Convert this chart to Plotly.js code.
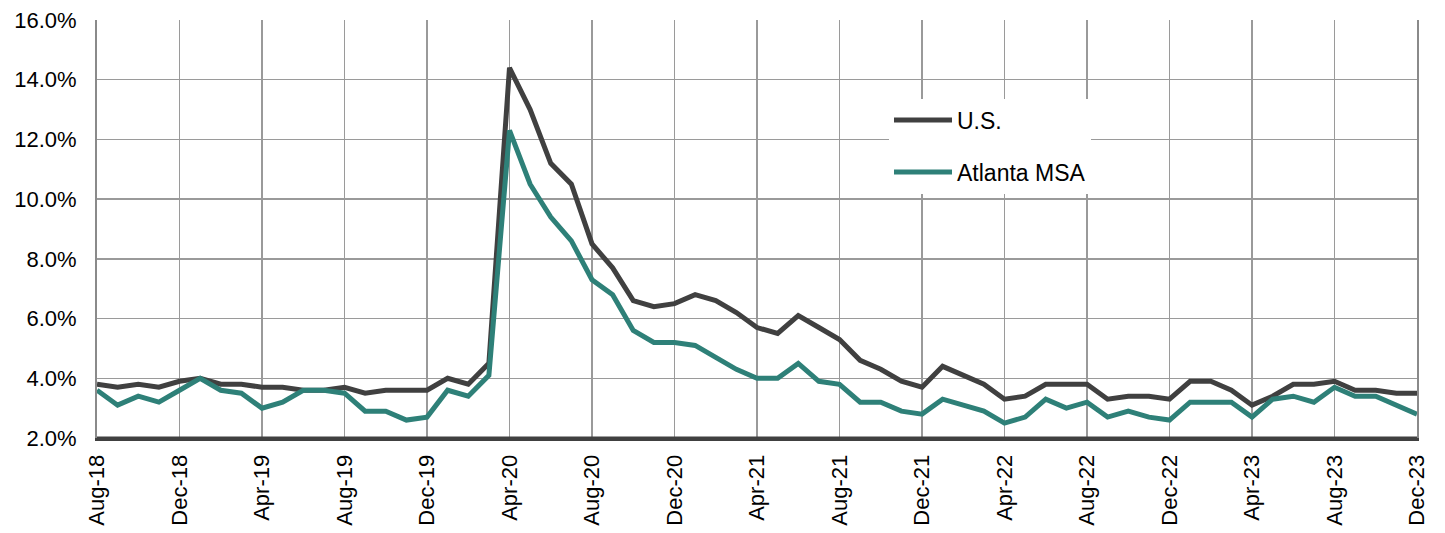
<!DOCTYPE html>
<html>
<head>
<meta charset="utf-8">
<script src="https://cdn.plot.ly/plotly-3.0.1.min.js"></script>
<style>html,body{margin:0;padding:0;background:#fff;}#chart{width:1445px;height:533px;}</style>
</head>
<body>
<div id="chart"></div>
<script>
const months = ["Aug-18","Sep-18","Oct-18","Nov-18","Dec-18","Jan-19","Feb-19","Mar-19","Apr-19","May-19","Jun-19","Jul-19",
"Aug-19","Sep-19","Oct-19","Nov-19","Dec-19","Jan-20","Feb-20","Mar-20","Apr-20","May-20","Jun-20","Jul-20",
"Aug-20","Sep-20","Oct-20","Nov-20","Dec-20","Jan-21","Feb-21","Mar-21","Apr-21","May-21","Jun-21","Jul-21",
"Aug-21","Sep-21","Oct-21","Nov-21","Dec-21","Jan-22","Feb-22","Mar-22","Apr-22","May-22","Jun-22","Jul-22",
"Aug-22","Sep-22","Oct-22","Nov-22","Dec-22","Jan-23","Feb-23","Mar-23","Apr-23","May-23","Jun-23","Jul-23",
"Aug-23","Sep-23","Oct-23","Nov-23","Dec-23"];

const usRate = [3.8,3.7,3.8,3.7,3.9,4.0,3.8,3.8,3.7,3.7,3.6,3.6,
3.7,3.5,3.6,3.6,3.6,4.0,3.8,4.5,14.4,13.0,11.2,10.5,
8.5,7.7,6.6,6.4,6.5,6.8,6.6,6.2,5.7,5.5,6.1,5.7,
5.3,4.6,4.3,3.9,3.7,4.4,4.1,3.8,3.3,3.4,3.8,3.8,
3.8,3.3,3.4,3.4,3.3,3.9,3.9,3.6,3.1,3.4,3.8,3.8,
3.9,3.6,3.6,3.5,3.5];

const atlantaRate = [3.6,3.1,3.4,3.2,3.6,4.0,3.6,3.5,3.0,3.2,3.6,3.6,
3.5,2.9,2.9,2.6,2.7,3.6,3.4,4.1,12.3,10.5,9.4,8.6,
7.3,6.8,5.6,5.2,5.2,5.1,4.7,4.3,4.0,4.0,4.5,3.9,
3.8,3.2,3.2,2.9,2.8,3.3,3.1,2.9,2.5,2.7,3.3,3.0,
3.2,2.7,2.9,2.7,2.6,3.2,3.2,3.2,2.7,3.3,3.4,3.2,
3.7,3.4,3.4,3.1,2.8];

const tickLabels = ["Aug-18","Dec-18","Apr-19","Aug-19","Dec-19","Apr-20","Aug-20","Dec-20","Apr-21","Aug-21","Dec-21","Apr-22","Aug-22","Dec-22","Apr-23","Aug-23","Dec-23"];
const yTicks = [2,4,6,8,10,12,14,16];

const font = "Liberation Sans, Arial, sans-serif";

const traces = [
  {x: months, y: usRate, name: "U.S.", type: "scatter", mode: "lines",
   line: {color: "#404040", width: 5}, legendgroup: "a"},
  {x: months, y: atlantaRate, name: "Atlanta MSA", type: "scatter", mode: "lines",
   line: {color: "#2e8078", width: 5}, legendgroup: "b"}
];

const layout = {
  width: 1445, height: 533,
  margin: {l: 97, r: 28, t: 20, b: 95, pad: 0},
  paper_bgcolor: "#fff", plot_bgcolor: "#fff",
  font: {family: font, color: "#000", size: 22},
  showlegend: true,
  legend: {x: 0.6, y: 0.812, xanchor: "left", yanchor: "top",
    bgcolor: "#fff", borderwidth: 0, font: {size: 23, family: font},
    tracegroupgap: 19, itemwidth: 58, traceorder: "grouped"},
  xaxis: {type: "category", categoryorder: "array", categoryarray: months,
    range: [0, months.length - 1], tickmode: "array", tickvals: tickLabels, ticktext: tickLabels,
    tickangle: -90, showgrid: true, gridcolor: "#9a9a9a", gridwidth: 1.3,
    showline: true, linecolor: "#404040", linewidth: 3, ticks: "", ticklabelstandoff: 5,
    tickfont: {size: 22, family: font}, zeroline: false, fixedrange: true},
  yaxis: {range: [2, 16], tickvals: yTicks, ticktext: yTicks.map(v => v.toFixed(1) + "%"),
    showgrid: true, gridcolor: "#9a9a9a", gridwidth: 1.3, showline: true, linecolor: "#8a8a8a",
    linewidth: 2, mirror: true, ticks: "", ticklabelstandoff: 14,
    tickfont: {size: 22, family: font}, zeroline: false, fixedrange: true},
  shapes: [
    {type: "line", xref: "paper", yref: "paper", x0: 0, x1: 1, y0: 0, y1: 0,
     line: {color: "#404040", width: 3}}
  ]
};

Plotly.newPlot("chart", traces, layout, {displayModeBar: false, staticPlot: true});
</script>
</body>
</html>
